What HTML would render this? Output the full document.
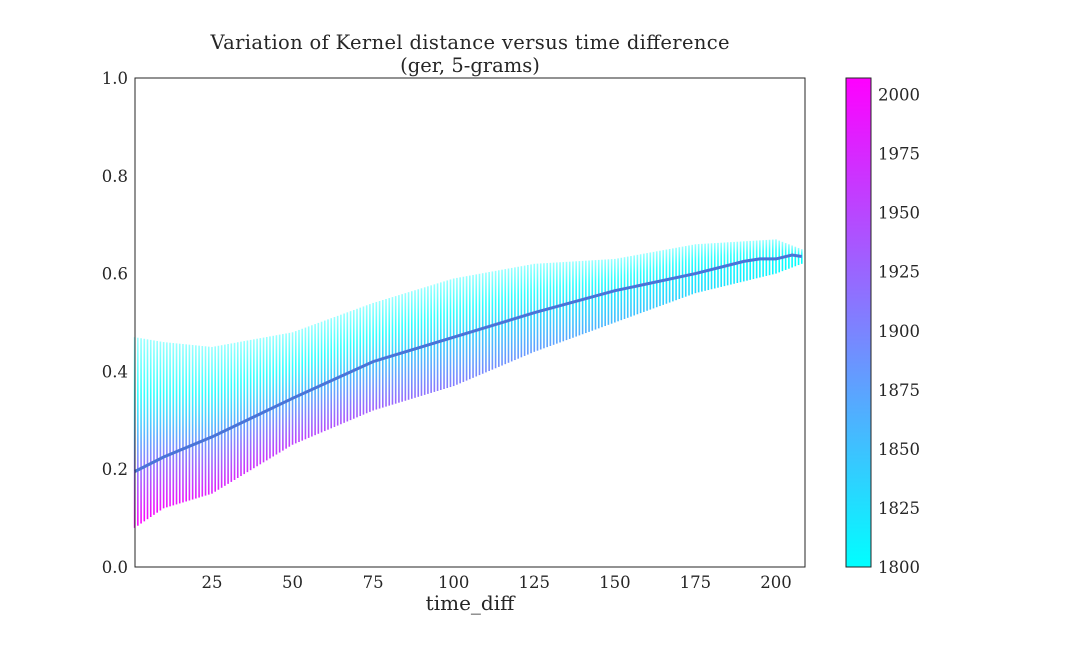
<!DOCTYPE html>
<html><head><meta charset="utf-8"><style>
body{margin:0;background:#fff;}
svg text{font-family:"DejaVu Serif","Liberation Serif",serif;fill:#262626;}
</style></head><body>
<svg id="chart" width="1080" height="648" xmlns="http://www.w3.org/2000/svg">
<defs><linearGradient id="cbar" x1="0" y1="1" x2="0" y2="0"><stop offset="0" stop-color="#00ffff"/><stop offset="1" stop-color="#ff00ff"/></linearGradient></defs>
<g id="cols"></g>
<path id="meanLine" fill="none" stroke="#4a74d8" stroke-width="3"/>
<rect x="135" y="78" width="670" height="489" fill="none" stroke="#262626" stroke-width="1"/>
<g id="xticks"></g>
<g id="yticks"></g>
<text x="470" y="49" font-size="19.5" text-anchor="middle" textLength="519">Variation of Kernel distance versus time difference</text>
<text x="470" y="72" font-size="19.5" text-anchor="middle">(ger, 5-grams)</text>
<text x="470" y="610" font-size="20" text-anchor="middle">time_diff</text>
<rect x="846" y="78" width="25" height="489" fill="url(#cbar)" stroke="#262626" stroke-width="1"/>
<g id="cticks"></g>
</svg>
<script>
const meanX=[1,10,25,50,75,100,125,150,175,190,195,200,205,208];
const meanY=[0.195,0.225,0.266,0.345,0.42,0.47,0.52,0.565,0.60,0.625,0.63,0.63,0.638,0.635];
const bandX=[1,10,25,50,75,100,125,150,175,200,208];
const bandTop=[0.47,0.46,0.45,0.48,0.54,0.59,0.62,0.63,0.66,0.67,0.65];
const bandBottom=[0.08,0.12,0.15,0.25,0.32,0.37,0.44,0.5,0.56,0.6,0.62];
const xTicks=[25,50,75,100,125,150,175,200];
const yTicks=[0,0.2,0.4,0.6,0.8,1.0];
const cTicks=[1800,1825,1850,1875,1900,1925,1950,1975,2000];
const X=v=>131.4+v*3.223, Y=v=>567-v*489, C=v=>567-(v-1800)*489/207;
const NS="http://www.w3.org/2000/svg";
const svg=document.getElementById('chart');
function interp(xs,ys,x){for(let i=0;i<xs.length-1;i++){if(x<=xs[i+1]){const t=(x-xs[i])/(xs[i+1]-xs[i]);return ys[i]+t*(ys[i+1]-ys[i]);}}return ys[ys.length-1];}
function cool(y){const t=Math.max(0,Math.min(1,(y-1800)/207));return `rgb(${Math.round(255*t)},${Math.round(255*(1-t))},255)`;}
const defs=svg.querySelector('defs'),cols=document.getElementById('cols');
for(let d=1;d<=208;d++){
  const top=interp(bandX,bandTop,d),bot=interp(bandX,bandBottom,d);
  const g=document.createElementNS(NS,'linearGradient');
  g.setAttribute('id','g'+d);g.setAttribute('x1','0');g.setAttribute('y1','0');g.setAttribute('x2','0');g.setAttribute('y2','1');
  const endYear=2007-d;
  [[0,cool(1800),0.4],[0.3,cool(1800),0.8],[0.55,cool(1800+(endYear-1800)*0.35),0.95],[1,cool(endYear),1]].forEach(s=>{const st=document.createElementNS(NS,'stop');st.setAttribute('offset',s[0]);st.setAttribute('stop-color',s[1]);st.setAttribute('stop-opacity',s[2]);g.appendChild(st);});
  defs.appendChild(g);
  const r=document.createElementNS(NS,'rect');
  
  
  r.setAttribute('x',X(d)-0.8);r.setAttribute('width',1.6);r.setAttribute('y',Y(top));r.setAttribute('height',Y(bot)-Y(top));
  r.setAttribute('fill','url(#g'+d+')');cols.appendChild(r);
}
document.getElementById('meanLine').setAttribute('d',meanX.map((x,i)=>(i?'L':'M')+X(x)+','+Y(meanY[i])).join(''));
const xt=document.getElementById('xticks');
xTicks.forEach(v=>{const t=document.createElementNS(NS,'text');


t.setAttribute('x',X(v));t.setAttribute('y',588);t.setAttribute('font-size','16.5');t.setAttribute('text-anchor','middle');t.textContent=v;xt.appendChild(t);});
const yt=document.getElementById('yticks');
yTicks.forEach(v=>{const t=document.createElementNS(NS,'text');


t.setAttribute('x',128);t.setAttribute('y',Y(v)+6);t.setAttribute('font-size','16.5');t.setAttribute('text-anchor','end');t.textContent=v.toFixed(1);yt.appendChild(t);});
const ct=document.getElementById('cticks');
cTicks.forEach(v=>{const t=document.createElementNS(NS,'text');


t.setAttribute('x',878);t.setAttribute('y',C(v)+6);t.setAttribute('font-size','16.5');t.textContent=v;ct.appendChild(t);});
</script>
</body></html>
